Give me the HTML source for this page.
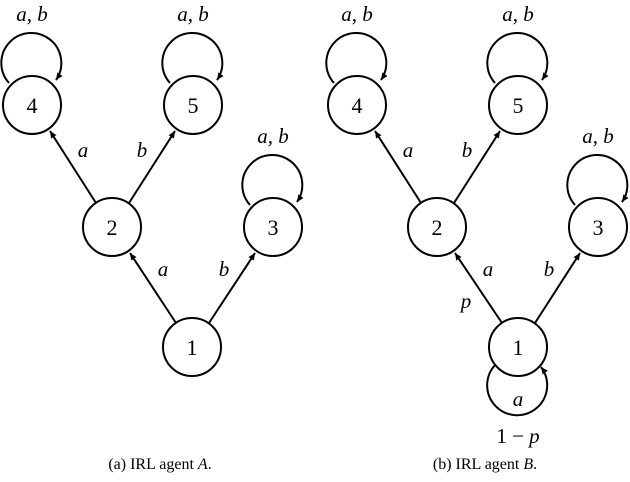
<!DOCTYPE html>
<html><head><style>body{margin:0;background:#fff}svg{display:block}text{font-family:"Liberation Serif","DejaVu Serif",serif;fill:#000}</style></head><body>
<svg width="630" height="482" viewBox="0 0 630 482" xmlns="http://www.w3.org/2000/svg" font-family="Liberation Serif, DejaVu Serif, serif">
<defs><marker id="ar" markerWidth="8" markerHeight="8" refX="7" refY="4" orient="auto" markerUnits="userSpaceOnUse"><path d="M0,0.8 L7,4 L0,7.2 Z" fill="#000"/></marker></defs>
<g fill="none" stroke="#000" stroke-width="2">
<circle cx="32" cy="105" r="29"/><circle cx="193" cy="105" r="29"/><circle cx="112" cy="227" r="29"/><circle cx="273" cy="227" r="29"/><circle cx="192" cy="347" r="29"/>
<path d="M9,83 A30,30 0 1 1 56,80" marker-end="url(#ar)"/>
<path d="M170,83 A30,30 0 1 1 217,80" marker-end="url(#ar)"/>
<path d="M250,205 A30,30 0 1 1 297,202" marker-end="url(#ar)"/>
<line x1="96" y1="203" x2="50" y2="131" marker-end="url(#ar)"/>
<line x1="129" y1="203" x2="175" y2="131" marker-end="url(#ar)"/>
<line x1="176" y1="323" x2="130" y2="253" marker-end="url(#ar)"/>
<line x1="209" y1="323" x2="255" y2="253" marker-end="url(#ar)"/>
</g>
<g font-size="22" text-anchor="middle">
<text x="32" y="113">4</text><text x="193" y="113">5</text><text x="112" y="235">2</text><text x="273" y="235">3</text><text x="192" y="355">1</text>
</g>
<g font-size="21" font-style="italic" text-anchor="middle">
<text x="32" y="21">a, b</text><text x="193" y="21">a, b</text><text x="273" y="143">a, b</text>
<text x="83" y="157">a</text><text x="142" y="157">b</text><text x="163" y="276">a</text><text x="224" y="276">b</text>
</g>
<g transform="translate(325,0)">
<g fill="none" stroke="#000" stroke-width="2">
<circle cx="32" cy="105" r="29"/><circle cx="193" cy="105" r="29"/><circle cx="112" cy="227" r="29"/><circle cx="273" cy="227" r="29"/><circle cx="193" cy="347" r="29"/>
<path d="M9,83 A30,30 0 1 1 56,80" marker-end="url(#ar)"/>
<path d="M170,83 A30,30 0 1 1 217,80" marker-end="url(#ar)"/>
<path d="M250,205 A30,30 0 1 1 297,202" marker-end="url(#ar)"/>
<path d="M170,365 A30,30 0 1 0 216,367" marker-end="url(#ar)"/>
<line x1="96" y1="203" x2="50" y2="131" marker-end="url(#ar)"/>
<line x1="129" y1="203" x2="175" y2="131" marker-end="url(#ar)"/>
<line x1="177" y1="323" x2="130" y2="253" marker-end="url(#ar)"/>
<line x1="210" y1="323" x2="255" y2="253" marker-end="url(#ar)"/>
</g>
<g font-size="22" text-anchor="middle">
<text x="32" y="113">4</text><text x="193" y="113">5</text><text x="112" y="235">2</text><text x="273" y="235">3</text><text x="193" y="355">1</text>
</g>
<g font-size="21" font-style="italic" text-anchor="middle">
<text x="32" y="21">a, b</text><text x="193" y="21">a, b</text><text x="273" y="143">a, b</text>
<text x="83" y="157">a</text><text x="142" y="157">b</text><text x="163" y="276">a</text><text x="224" y="276">b</text>
<text x="141" y="308">p</text><text x="193" y="406">a</text>
</g>
<text x="193" y="443" font-size="21" text-anchor="middle">1 − <tspan font-style="italic">p</tspan></text>
</g>
<g font-size="16" text-anchor="middle">
<text x="160" y="469">(a) IRL agent <tspan font-style="italic">A</tspan>.</text>
<text x="485" y="469">(b) IRL agent <tspan font-style="italic">B</tspan>.</text>
</g>
</svg>
</body></html>
